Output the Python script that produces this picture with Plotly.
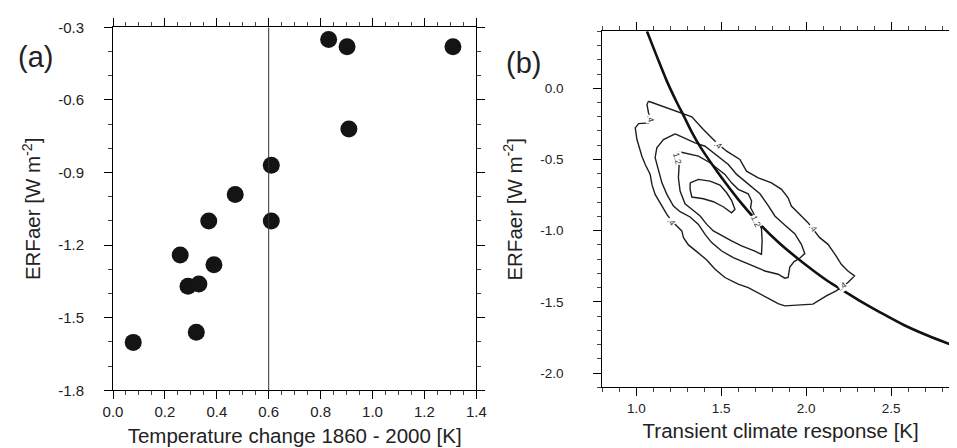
import plotly.graph_objects as go

# ---------------- Panel (a) data ----------------
TEMP_CHANGE = [0.831, 0.902, 1.310, 0.909, 0.610, 0.471, 0.369, 0.610,
               0.259, 0.389, 0.289, 0.331, 0.321, 0.078]
ERF_AER_A = [-0.350, -0.380, -0.380, -0.720, -0.870, -0.991, -1.100, -1.100,
             -1.241, -1.281, -1.370, -1.361, -1.560, -1.602]
THRESHOLD_T = [0.6]
A_XTICKS = [0.0, 0.2, 0.4, 0.6, 0.8, 1.0, 1.2, 1.4]
A_XLABELS = ["0.0", "0.2", "0.4", "0.6", "0.8", "1.0", "1.2", "1.4"]
A_YTICKS = [-1.8, -1.5, -1.2, -0.9, -0.6, -0.3]
A_YLABELS = ["-1.8", "-1.5", "-1.2", "-0.9", "-0.6", "-0.3"]

# ---------------- Panel (b) data ----------------
CURVE_TCR = [1.063, 1.121, 1.180, 1.239, 1.278, 1.327, 1.376, 1.503, 1.600,
             1.718, 1.835, 1.952, 2.129, 2.207, 2.324, 2.441, 2.578, 2.715, 2.897]
CURVE_ERF = [0.400, 0.224, 0.050, -0.100, -0.190, -0.308, -0.410, -0.629, -0.780,
             -0.942, -1.080, -1.197, -1.355, -1.412, -1.498, -1.577, -1.664, -1.736, -1.820]

C04_X = [1.072, 1.258, 1.327, 1.395, 1.473, 1.532, 1.610, 1.649, 1.718, 1.796, 1.855,
         1.894, 1.913, 1.972, 2.011, 2.080, 2.129, 2.177, 2.207, 2.246, 2.285, 2.246,
         2.177, 2.119, 2.060, 2.040, 1.874, 1.835, 1.786, 1.718, 1.659, 1.600, 1.522,
         1.464, 1.415, 1.356, 1.307, 1.278, 1.268, 1.239, 1.209, 1.180, 1.151, 1.111,
         1.092, 1.082, 1.053, 1.033, 1.004, 0.994, 1.014, 1.072, 1.086, 1.072, 1.063]
C04_Y = [-0.091, -0.173, -0.201, -0.290, -0.383, -0.442, -0.500, -0.582, -0.629, -0.664,
         -0.710, -0.769, -0.827, -0.897, -0.944, -1.049, -1.096, -1.178, -1.236, -1.283,
         -1.318, -1.364, -1.423, -1.458, -1.505, -1.516, -1.528, -1.512, -1.481, -1.435,
         -1.400, -1.376, -1.329, -1.271, -1.206, -1.147, -1.100, -1.049, -1.002, -0.967,
         -0.932, -0.886, -0.827, -0.745, -0.675, -0.605, -0.535, -0.477, -0.360, -0.278,
         -0.248, -0.243, -0.215, -0.173, -0.114]

C08_X = [1.229, 1.346, 1.405, 1.483, 1.542, 1.591, 1.659, 1.728, 1.776, 1.816, 1.874,
         1.933, 1.972, 1.992, 1.962, 1.929, 1.904, 1.894, 1.874, 1.835, 1.757, 1.640,
         1.571, 1.503, 1.444, 1.405, 1.366, 1.317, 1.258, 1.219, 1.180, 1.151, 1.131,
         1.111, 1.121, 1.160]
C08_Y = [-0.320, -0.383, -0.407, -0.477, -0.535, -0.605, -0.671, -0.741, -0.822, -0.897,
         -0.960, -1.021, -1.096, -1.161, -1.194, -1.217, -1.255, -1.329, -1.334, -1.306,
         -1.283, -1.224, -1.189, -1.143, -1.084, -1.026, -0.956, -0.904, -0.867, -0.827,
         -0.745, -0.664, -0.570, -0.488, -0.418, -0.360]

C12_X = [1.252, 1.366, 1.434, 1.483, 1.522, 1.561, 1.600, 1.659, 1.679, 1.673, 1.698,
         1.722, 1.737, 1.741, 1.737, 1.698, 1.620, 1.561, 1.503, 1.454, 1.415, 1.376,
         1.327, 1.287, 1.258, 1.248, 1.252, 1.241]
C12_Y = [-0.446, -0.477, -0.523, -0.570, -0.605, -0.664, -0.710, -0.741, -0.792, -0.839,
         -0.897, -0.944, -0.984, -1.072, -1.166, -1.143, -1.107, -1.072, -1.037, -1.002,
         -0.956, -0.897, -0.850, -0.811, -0.722, -0.629, -0.547, -0.493]

C16_X = [1.317, 1.366, 1.434, 1.493, 1.532, 1.561, 1.581, 1.561, 1.512, 1.454, 1.395,
         1.327, 1.317]
C16_Y = [-0.664, -0.640, -0.652, -0.680, -0.734, -0.787, -0.850, -0.874, -0.832, -0.797,
         -0.776, -0.764, -0.710]

LABEL_TEXT = [".4", ".4", ".4", ".4", ".4", "1.2", "1.2"]
LABEL_X = [1.086, 1.483, 2.040, 2.213, 1.209, 1.239, 1.704]
LABEL_Y = [-0.215, -0.395, -0.984, -1.388, -0.937, -0.493, -0.932]
LABEL_ANGLE = [78, 40, 52, -35, 50, 75, 65]

B_XTICKS = [1.0, 1.5, 2.0, 2.5]
B_XLABELS = ["1.0", "1.5", "2.0", "2.5"]
B_YTICKS = [-2.0, -1.5, -1.0, -0.5, 0.0]
B_YLABELS = ["-2.0", "-1.5", "-1.0", "-0.5", "0.0"]

FONT = "Liberation Sans, Arial, Helvetica, sans-serif"
TXT = "#222222"
W, H = 957, 448

fig = go.Figure()

# Panel (a)
fig.add_trace(go.Scatter(
    x=TEMP_CHANGE, y=ERF_AER_A, mode="markers",
    marker=dict(size=17, color="#141414", line=dict(width=0)),
    xaxis="x", yaxis="y", showlegend=False, cliponaxis=False))
for t in THRESHOLD_T:
    fig.add_shape(type="line", xref="x", yref="y domain", x0=t, x1=t, y0=0, y1=1,
                  line=dict(color="#333333", width=1))

# Panel (b) contours
for cx, cy in [(C04_X, C04_Y), (C08_X, C08_Y), (C12_X, C12_Y), (C16_X, C16_Y)]:
    fig.add_trace(go.Scatter(
        x=cx + cx[:1], y=cy + cy[:1], mode="lines",
        line=dict(color="#1e1e1e", width=1.4),
        xaxis="x2", yaxis="y2", showlegend=False, hoverinfo="skip"))

fig.add_trace(go.Scatter(
    x=CURVE_TCR, y=CURVE_ERF, mode="lines",
    line=dict(color="#111111", width=2.6, shape="spline", smoothing=0.8),
    xaxis="x2", yaxis="y2", showlegend=False))

for txt, lx, ly, ang in zip(LABEL_TEXT, LABEL_X, LABEL_Y, LABEL_ANGLE):
    fig.add_annotation(x=lx, y=ly, xref="x2", yref="y2", text=txt, showarrow=False,
                       textangle=ang, font=dict(size=8.5, color="#333333", family=FONT),
                       bgcolor="white", borderpad=0)

def axis_common(title, tsize, tickvals, ticktext, fsize, minor_dtick, rng, domain,
                anchor, tick0, standoff, lblpad):
    return dict(
        title=dict(text=title, font=dict(size=tsize, family=FONT, color=TXT), standoff=standoff),
        range=rng, domain=domain, anchor=anchor, automargin=False,
        showline=True, linecolor="black", linewidth=1, mirror="allticks",
        ticks="outside", ticklen=8, tickwidth=1, tickcolor="black",
        tickmode="array", tickvals=tickvals, ticktext=ticktext, ticklabelstandoff=lblpad,
        tickfont=dict(size=fsize, family=FONT, color=TXT),
        minor=dict(ticks="outside", ticklen=4, tickwidth=1, tickcolor="#444444",
                   tickmode="linear", tick0=tick0, dtick=minor_dtick, showgrid=False),
        showgrid=False, zeroline=False,
    )

fig.update_layout(
    width=W, height=H,
    margin=dict(l=0, r=0, t=0, b=0),
    paper_bgcolor="white", plot_bgcolor="white",
    font=dict(family=FONT, color=TXT),
    xaxis=axis_common("Temperature change 1860 - 2000 [K]", 20.5, A_XTICKS, A_XLABELS, 15,
                      0.05, [0, 1.4], [105 / W, 468.3 / W], "y", 0, 9, 0),
    yaxis=axis_common("ERFaer [W m<sup>-2</sup>]", 20.5, A_YTICKS, A_YLABELS, 15,
                      0.1, [-1.8, -0.3], [1 - 382.3 / H, 1 - 19.3 / H], "x", -1.8, 11, 17),
    xaxis2=axis_common("Transient climate response [K]", 20.5, B_XTICKS, B_XLABELS, 13.5,
                       0.1, [0.8, 2.9], [594.3 / W, 951 / W], "y2", 0, 9, 0),
    yaxis2=axis_common("ERFaer [W m<sup>-2</sup>]", 20.5, B_YTICKS, B_YLABELS, 13.5,
                       0.1, [-2.1, 0.4], [1 - 379.3 / H, 1 - 23.3 / H], "x2", 0, 12, 27),
)

fig.add_annotation(x=27 / W, y=1 - 49 / H, xref="paper", yref="paper", text="(a)",
                   xanchor="center", yanchor="middle",
                   showarrow=False, font=dict(size=29, family=FONT, color=TXT))
fig.add_annotation(x=515 / W, y=1 - 55 / H, xref="paper", yref="paper", text="(b)",
                   xanchor="center", yanchor="middle",
                   showarrow=False, font=dict(size=29, family=FONT, color=TXT))

fig.write_html("out.html")
